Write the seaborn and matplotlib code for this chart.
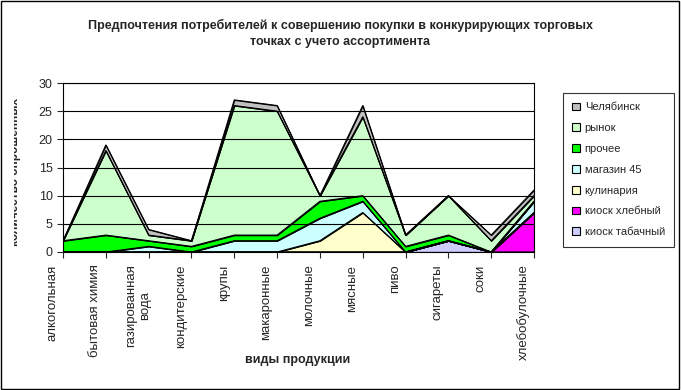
import numpy as np
import pandas as pd
import matplotlib
matplotlib.use('Agg')
import matplotlib.pyplot as plt
from matplotlib.patches import Rectangle
from matplotlib.transforms import Bbox
import seaborn as sns

# data
categories = ['алкогольная', 'бытовая химия', 'газированная\nвода', 'кондитерские',
              'крупы', 'макаронные', 'молочные', 'мясные', 'пиво', 'сигареты',
              'соки', 'хлебобулочные']
kiosk_tabak = [0, 0, 0, 0, 0, 0, 0, 0, 0, 2, 0, 0]
kiosk_hleb = [0, 0, 0, 0, 0, 0, 0, 0, 0, 0, 0, 7]
kulinaria = [0, 0, 0, 0, 0, 0, 2, 7, 0, 0, 0, 0]
magazin45 = [0, 0, 1, 0, 2, 2, 4, 2, 0, 0, 0, 2]
prochee = [2, 3, 1, 1, 1, 1, 3, 1, 1, 1, 0, 0]
rynok = [0, 15, 1, 1, 23, 22, 1, 14, 2, 7, 2, 1]
chelyabinsk = [0, 1, 1, 0, 1, 1, 0, 2, 0, 0, 1, 1]

series_names = ['киоск табачный', 'киоск хлебный', 'кулинария', 'магазин 45',
                'прочее', 'рынок', 'Челябинск']
colors = ['#CCCCFF', '#FF00FF', '#FFFFCC', '#CCFFFF', '#00FF00', '#CCFFCC', '#C0C0C0']

df = pd.DataFrame({
    'киоск табачный': kiosk_tabak,
    'киоск хлебный': kiosk_hleb,
    'кулинария': kulinaria,
    'магазин 45': magazin45,
    'прочее': prochee,
    'рынок': rynok,
    'Челябинск': chelyabinsk,
}, index=categories)

sns.set_style('white')
plt.rcParams['font.family'] = ['Liberation Sans', 'DejaVu Sans']

W, H = 681, 390
fig = plt.figure(figsize=(W / 100, H / 100), dpi=100)
ax = fig.add_axes([63 / W, 1 - 252 / H, (534 - 63) / W, (252 - 83) / H])

x = np.arange(len(categories))
ax.stackplot(x, *[df[c].values for c in series_names], colors=colors,
             edgecolor='black', linewidth=0.8, labels=series_names)

# cumulative outline on top of each layer
cum = df[series_names].cumsum(axis=1)
for c in series_names:
    sns.lineplot(x=x, y=cum[c].values, ax=ax, color='black', linewidth=0.8, legend=False)

ax.set_xlim(0, len(categories) - 1)
ax.set_ylim(0, 30)
ax.set_yticks(range(0, 31, 5))
ax.set_xticks(x)
ax.set_xticklabels([])
ax.tick_params(axis='y', labelsize=9, direction='out', length=4, width=0.8, left=True)
ax.tick_params(axis='x', direction='out', length=4, width=0.8, bottom=True)
ax.yaxis.grid(True, color='black', linewidth=0.8)
ax.set_axisbelow(False)
for s in ax.spines.values():
    s.set_color('black')
    s.set_linewidth(0.8)

# category labels sit a little left of their ticks (as in Excel)
lab = fig.add_axes([(63 - 10.5) / W, 1 - 252 / H, (534 - 63) / W, (252 - 83) / H],
                   facecolor='none')
lab.set_xlim(0, len(categories) - 1)
lab.set_ylim(0, 1)
lab.set_xticks(x)
lab.set_xticklabels(categories, rotation=90, ha='center', va='top', fontsize=9.5,
                    multialignment='center')
lab.tick_params(axis='x', length=0, pad=9)
lab.set_yticks([])
for s in lab.spines.values():
    s.set_visible(False)

fig.text(298 / W, 1 - 360 / H, 'виды продукции', ha='center', va='center',
         fontsize=9, fontweight='bold')

fig.text(340 / W, 1 - 33.5 / H,
         'Предпочтения потребителей к совершению покупки в конкурирующих торговых\nточках с учето ассортимента',
         ha='center', va='center', fontsize=9, fontweight='bold', linespacing=1.55)

# y label, partly cut off at the left edge as in the reference
yl = fig.text(15.5 / W, 1 - 172 / H, 'количество опрошенных', rotation=90, ha='center',
              va='center', fontsize=8.5, fontweight='bold')
yl.set_clip_on(True)
yl.set_clip_box(Bbox([[14, 0], [W, H]]))

handles, labels = ax.get_legend_handles_labels()
leg = fig.legend(handles[::-1], labels[::-1], loc='upper left',
                 bbox_to_anchor=(563 / W, 1 - 93 / H), fontsize=8,
                 frameon=True, fancybox=False, edgecolor='black',
                 handlelength=0.7, handleheight=0.7, handletextpad=0.4,
                 labelspacing=0.97, borderpad=0.85, borderaxespad=0)
leg.get_frame().set_linewidth(0.8)

fig.patches.append(Rectangle((0.002, 0.003), 0.995, 0.994, transform=fig.transFigure,
                             fill=False, edgecolor='black', linewidth=1))

fig.savefig('out.png', dpi=100)
